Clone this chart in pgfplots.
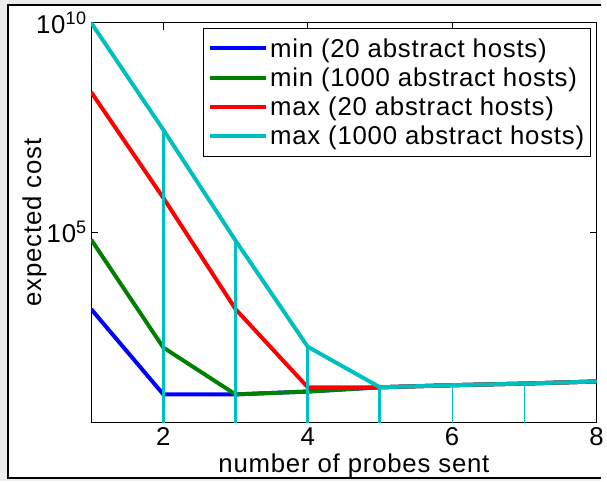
\documentclass[border=0pt]{standalone}
\usepackage{pgfplots}
\pgfplotsset{compat=1.18}
\usepackage{fontspec}
\setmainfont[LetterSpace=3]{Liberation Sans}
\definecolor{mcyan}{rgb}{0,0.75,0.75}
\definecolor{mgreen}{rgb}{0,0.5,0}
\definecolor{bgout}{rgb}{0.93,0.92,0.92}
\begin{document}
\begin{tikzpicture}
\fill[bgout] (-92pt,-59pt) rectangle (515pt,426pt);
\fill[white] (-84pt,-56pt) rectangle (515pt,421pt);
\draw[black,line width=2pt] (515pt,421pt) -- (-84pt,421pt) -- (-84pt,-56pt) -- (515pt,-56pt);
\begin{axis}[
  at={(0pt,0pt)}, anchor=south west,
  scale only axis, width=510pt, height=403pt,
  xmin=1, xmax=8, ymode=log, ymin=2.8, ymax=1e10,
  xtick={2,4,6,8}, ytick={1e5,1e10},
  xticklabels={2,4,6,8},
  yticklabels={10\textsuperscript{5},10\textsuperscript{10}},
  minor ytick={},
  /pgf/number format/assume math mode=true,
  tick align=inside, major tick length=7pt,
  tick style={black, line width=0.6pt},
  axis line style={black, line width=0.8pt},
  every tick label/.style={font=\fontsize{26}{28}\selectfont},
  xticklabel style={yshift=-2pt},
  yticklabel style={xshift=-1pt},
  xlabel={number of probes sent},
  ylabel={expected cost},
  label style={font=\fontsize{26}{28}\selectfont},
  xlabel style={at={(axis description cs:0.52,0)}, anchor=base, yshift=-51pt},
  ylabel style={at={(axis description cs:-0.112,0.5)}, anchor=center},
  legend style={at={(rel axis cs:0.988,0.988)}, anchor=north east,
    font=\fontsize{26}{31}\selectfont, draw=black, line width=0.8pt,
    inner xsep=4pt, inner ysep=6pt,
    nodes={inner ysep=4.5pt},
    cells={anchor=west}},
  every axis plot post/.append style={
    /pgfplots/legend image code/.code={\draw[#1, line width=4pt] (0pt,0pt) -- (45pt,0pt); \path (0pt,0pt) -- (57pt,0pt);}},
]
\addplot[blue, line width=4pt] coordinates {(1,1413) (2,12.9) (3,12.9) (4,15.1) (5,19.1) (6,21.4) (7,23.4) (8,26.3)};
\addlegendentry{min (20 abstract hosts)}
\addplot[mgreen, line width=4pt] coordinates {(1,6.5e4) (2,170) (3,12.9) (4,15.1) (5,19.1) (6,21.4) (7,23.4) (8,26.3)};
\addlegendentry{min (1000 abstract hosts)}
\addplot[red, line width=4pt] coordinates {(1,2.19e8) (2,6.46e5) (3,1413) (4,19.1) (5,19.1) (6,21.4) (7,23.4) (8,26.3)};
\addlegendentry{max (20 abstract hosts)}
\addplot[mcyan, line width=4pt] coordinates {(1,1e10) (2,2.75e7) (3,6.17e4) (4,178) (5,19.1) (6,21.4) (7,23.4) (8,26.3)};
\addlegendentry{max (1000 abstract hosts)}
\addplot[mcyan, line width=3pt, ycomb, forget plot] coordinates {(2,2.75e7) (3,6.17e4) (4,178) (5,19.1)};
\addplot[mcyan, line width=1pt, ycomb, forget plot] coordinates {(6,21.4) (7,23.4)};
\end{axis}
\end{tikzpicture}
\end{document}
